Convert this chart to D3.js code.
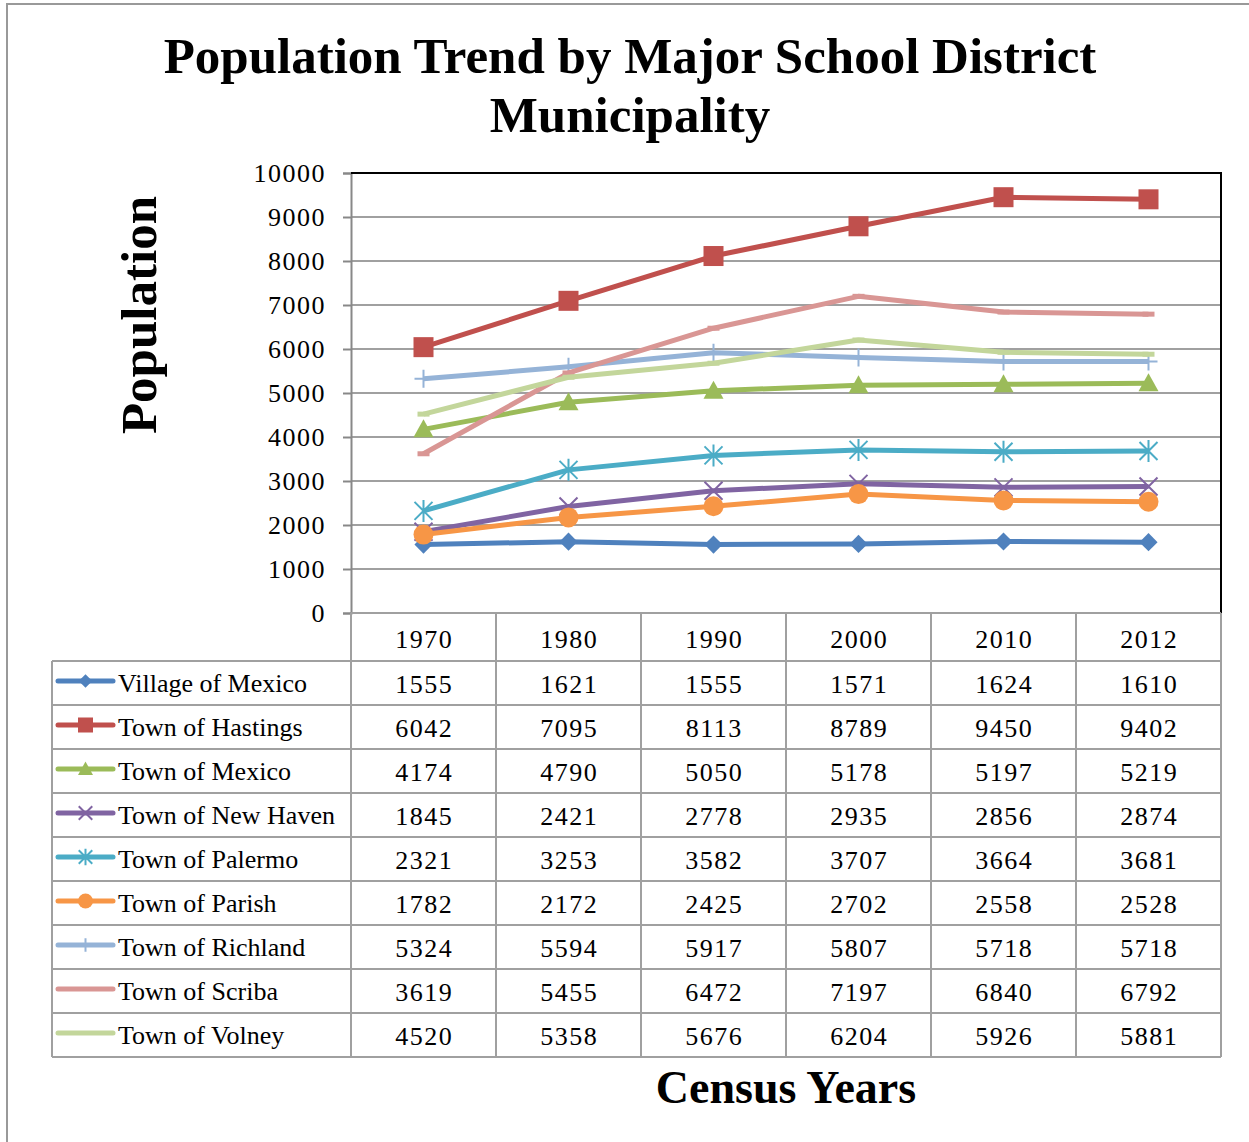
<!DOCTYPE html>
<html>
<head>
<meta charset="utf-8">
<script src="https://cdn.jsdelivr.net/npm/d3@7"></script>
<style>
  html, body { margin: 0; padding: 0; background: #fff; }
  svg { display: block; }
  text { font-family: "Liberation Serif", "DejaVu Serif", serif; fill: #000; }
</style>
</head>
<body>
<svg id="chart" width="1249" height="1142"></svg>
<script>
// Census years (category axis and table header)
const years = ["1970", "1980", "1990", "2000", "2010", "2012"];

// Population by municipality
const seriesNames = [
  "Village of Mexico", "Town of Hastings", "Town of Mexico", "Town of New Haven",
  "Town of Palermo", "Town of Parish", "Town of Richland", "Town of Scriba", "Town of Volney"
];
const villageOfMexico = [1555, 1621, 1555, 1571, 1624, 1610];
const townOfHastings  = [6042, 7095, 8113, 8789, 9450, 9402];
const townOfMexico    = [4174, 4790, 5050, 5178, 5197, 5219];
const townOfNewHaven  = [1845, 2421, 2778, 2935, 2856, 2874];
const townOfPalermo   = [2321, 3253, 3582, 3707, 3664, 3681];
const townOfParish    = [1782, 2172, 2425, 2702, 2558, 2528];
const townOfRichland  = [5324, 5594, 5917, 5807, 5718, 5718];
const townOfScriba    = [3619, 5455, 6472, 7197, 6840, 6792];
const townOfVolney    = [4520, 5358, 5676, 6204, 5926, 5881];

// Y axis tick values
const yTicks = [0, 1000, 2000, 3000, 4000, 5000, 6000, 7000, 8000, 9000, 10000];

const seriesValues = [villageOfMexico, townOfHastings, townOfMexico, townOfNewHaven,
  townOfPalermo, townOfParish, townOfRichland, townOfScriba, townOfVolney];
const colors = ["#4F81BD", "#C0504D", "#9BBB59", "#8064A2", "#4BACC6", "#F79646",
  "#95B3D7", "#D99694", "#C3D69B"];
const markers = ["diamond", "square", "triangle", "x", "star", "circle", "plus", "dash", "dash"];

const series = seriesNames.map((name, i) => ({
  name, values: seriesValues[i], color: colors[i], marker: markers[i]
}));

const svg = d3.select("#chart");
const gridColor = "#a0a0a0";
const numSpacing = 1.5;

// Layout
const plot = { left: 351, right: 1221, top: 173, bottom: 613 };
const rowH = 44;
const headerBottom = 661;
const tableLeft = 52;

const x = d3.scaleBand().domain(years).range([plot.left, plot.right]).paddingInner(0).paddingOuter(0);
const y = d3.scaleLinear().domain([0, 10000]).range([plot.bottom, plot.top]);
const cx = yr => x(yr) + x.bandwidth() / 2;

// Outer frame
svg.append("path")
  .attr("d", "M7,1142 L7,4 L1249,4")
  .attr("fill", "none").attr("stroke", "#999").attr("stroke-width", 2);

// Title
const title = svg.append("text")
  .attr("x", 630).attr("text-anchor", "middle")
  .attr("font-weight", "bold").attr("font-size", 51);
title.append("tspan").attr("x", 630).attr("y", 73).text("Population Trend by Major School District");
title.append("tspan").attr("x", 630).attr("y", 132).text("Municipality");

// Gridlines
svg.append("g").selectAll("line").data(yTicks.filter(t => t > 0 && t < 10000)).join("line")
  .attr("x1", plot.left).attr("x2", plot.right)
  .attr("y1", d => y(d)).attr("y2", d => y(d))
  .attr("stroke", gridColor).attr("stroke-width", 2);

// Y axis
const yAxis = d3.axisLeft(y).tickValues(yTicks).tickSize(8).tickPadding(17).tickFormat(d3.format("d"));
const gy = svg.append("g").attr("transform", `translate(${plot.left},0)`).call(yAxis);
gy.select(".domain").attr("stroke", "#888").attr("stroke-width", 2);
gy.selectAll(".tick line").attr("stroke", "#888").attr("stroke-width", 2);
gy.selectAll(".tick text")
  .attr("font-family", "'Liberation Serif', serif")
  .attr("font-size", 26).attr("fill", "#000")
  .attr("letter-spacing", numSpacing);

// Plot border (top and right)
svg.append("path")
  .attr("d", `M${plot.left},${plot.top} L${plot.right},${plot.top} L${plot.right},${plot.bottom}`)
  .attr("fill", "none").attr("stroke", "#000").attr("stroke-width", 2);

// Y axis title
svg.append("text")
  .attr("transform", "translate(156,315) rotate(-90)")
  .attr("text-anchor", "middle").attr("font-weight", "bold").attr("font-size", 51)
  .text("Population");

// Data table lines
const tableG = svg.append("g").attr("stroke", gridColor).attr("stroke-width", 2);
const rowYs = d3.range(series.length + 1).map(i => headerBottom + i * rowH);
tableG.append("line").attr("x1", plot.left).attr("x2", plot.right)
  .attr("y1", plot.bottom).attr("y2", plot.bottom);
rowYs.forEach(ry => {
  tableG.append("line").attr("x1", tableLeft).attr("x2", plot.right).attr("y1", ry).attr("y2", ry);
});
const tableBottom = rowYs[rowYs.length - 1];
// Column separators
const colEdges = years.map(yr => x(yr)).concat([plot.right]);
colEdges.forEach(cxv => {
  tableG.append("line").attr("x1", cxv).attr("x2", cxv)
    .attr("y1", plot.bottom).attr("y2", tableBottom);
});
tableG.append("line").attr("x1", tableLeft).attr("x2", tableLeft)
  .attr("y1", headerBottom).attr("y2", tableBottom);

// Header years
svg.append("g").selectAll("text").data(years).join("text")
  .attr("x", d => cx(d) + numSpacing / 2).attr("y", 648)
  .attr("text-anchor", "middle").attr("font-size", 26)
  .attr("letter-spacing", numSpacing)
  .text(d => d);

// Table values
series.forEach((s, i) => {
  const rowMid = headerBottom + i * rowH + rowH / 2;
  svg.append("g").selectAll("text").data(s.values).join("text")
    .attr("x", (d, j) => cx(years[j]) + numSpacing / 2).attr("y", rowMid + 10)
    .attr("text-anchor", "middle").attr("font-size", 26)
    .attr("letter-spacing", numSpacing)
    .text(d => d);
});

// Marker shapes
function drawMarker(g, type, color, px, py, k) {
  switch (type) {
    case "diamond":
      g.append("path").attr("d", d3.symbol(d3.symbolDiamond2, 210 * k * k)())
        .attr("transform", `translate(${px},${py})`).attr("fill", color); break;
    case "square":
      g.append("rect").attr("x", px - 10 * k).attr("y", py - 10 * k)
        .attr("width", 20 * k).attr("height", 20 * k).attr("fill", color); break;
    case "triangle":
      g.append("path").attr("d", `M${px},${py - 10 * k} L${px + 10 * k},${py + 8 * k} L${px - 10 * k},${py + 8 * k} Z`)
        .attr("fill", color); break;
    case "circle":
      g.append("circle").attr("cx", px).attr("cy", py).attr("r", 10 * k).attr("fill", color); break;
    case "x":
      g.append("path").attr("d", `M${px - 9 * k},${py - 9 * k} L${px + 9 * k},${py + 9 * k} M${px - 9 * k},${py + 9 * k} L${px + 9 * k},${py - 9 * k}`)
        .attr("stroke", color).attr("stroke-width", 2); break;
    case "star":
      g.append("path").attr("d", `M${px - 9 * k},${py - 9 * k} L${px + 9 * k},${py + 9 * k} M${px - 9 * k},${py + 9 * k} L${px + 9 * k},${py - 9 * k} M${px},${py - 11 * k} L${px},${py + 11 * k}`)
        .attr("stroke", color).attr("stroke-width", 2); break;
    case "plus":
      g.append("path").attr("d", `M${px},${py - 9 * k} L${px},${py + 9 * k} M${px - 9 * k},${py} L${px + 9 * k},${py}`)
        .attr("stroke", color).attr("stroke-width", 2); break;
    case "dash":
      g.append("path").attr("d", `M${px - 6 * k},${py} L${px + 6 * k},${py}`)
        .attr("stroke", color).attr("stroke-width", 5); break;
  }
}

// Series lines and markers
const line = d3.line().x((d, j) => cx(years[j])).y(d => y(d));
const linesG = svg.append("g");
series.forEach(s => {
  const g = linesG.append("g");
  g.append("path").datum(s.values).attr("d", line)
    .attr("fill", "none").attr("stroke", s.color).attr("stroke-width", 5)
    .attr("stroke-linejoin", "round");
  s.values.forEach((v, j) => drawMarker(g, s.marker, s.color, cx(years[j]), y(v), 1));
});

// Legend keys inside the table
series.forEach((s, i) => {
  const rowMid = headerBottom + i * rowH + rowH / 2 - 2;
  const g = svg.append("g");
  g.append("line").attr("x1", 58).attr("x2", 113).attr("y1", rowMid).attr("y2", rowMid)
    .attr("stroke", s.color).attr("stroke-width", 5).attr("stroke-linecap", "round");
  if (s.marker !== "dash") drawMarker(g, s.marker, s.color, 85.5, rowMid, 0.75);
  g.append("text").attr("x", 118).attr("y", rowMid + 11).attr("font-size", 26).text(s.name);
});

// X axis title
svg.append("text")
  .attr("x", 786).attr("y", 1103).attr("text-anchor", "middle")
  .attr("font-weight", "bold").attr("font-size", 46)
  .text("Census Years");
</script>
</body>
</html>
